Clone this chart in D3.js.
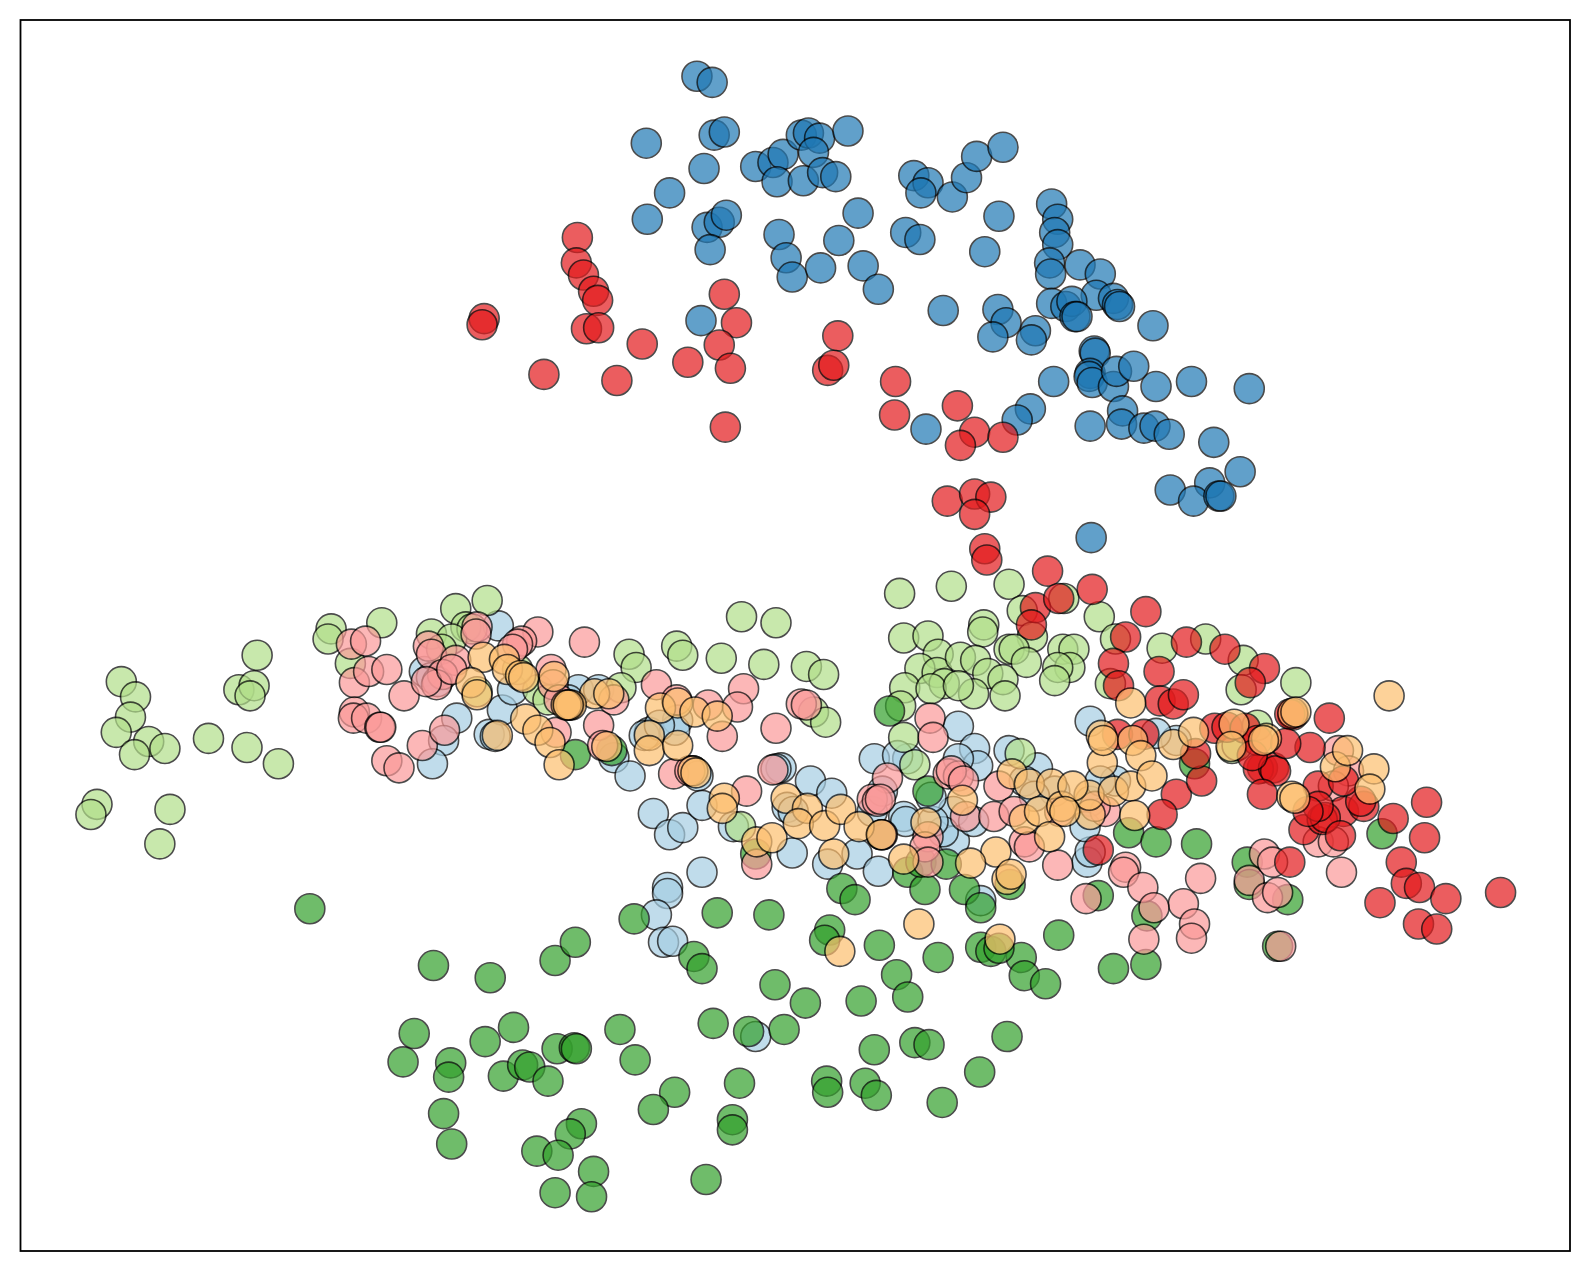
<!DOCTYPE html>
<html>
<head>
<meta charset="utf-8">
<script src="https://d3js.org/d3.v7.min.js"></script>
<style>
  html, body { margin: 0; padding: 0; background: #fff; }
  svg { display: block; }
</style>
</head>
<body>
<div id="chart"></div>
<script>
// values, [x, y], y grows downwards
const blue = [[687,75],[702,81],[637,141],[704,133],[714,130],[694,166],[660,190],[638,216],[697,224],[709,219],[716,212],[700,246],[745,164],[762,160],[772,152],[766,179],[790,133],[797,131],[808,136],[836,129],[802,150],[792,178],[811,170],[824,174],[846,210],[768,231],[775,254],[781,273],[809,264],[827,237],[851,262],[866,285],[901,173],[915,180],[908,190],[939,194],[953,175],[963,154],[989,145],[985,213],[893,229],[907,236],[971,248],[1037,201],[1043,216],[1040,229],[1043,241],[1035,259],[1036,270],[1065,261],[1085,270],[1081,291],[1037,299],[1051,302],[1057,297],[1060,312],[1062,312],[1098,294],[1102,300],[1104,302],[1137,321],[930,306],[984,305],[992,318],[979,332],[1021,326],[1017,335],[691,316],[1079,346],[1080,348],[1075,368],[1074,371],[1077,377],[1098,381],[1101,366],[1118,361],[1140,381],[1175,376],[1232,383],[1039,376],[1016,403],[1003,414],[913,423],[1075,420],[1107,405],[1106,418],[1128,422],[1139,420],[1153,428],[1197,436],[1223,465],[1193,476],[1154,483],[1177,494],[1202,489],[1204,489],[1076,530]];
const lightBlue = [[491,617],[418,662],[425,668],[431,672],[450,708],[437,730],[482,724],[495,700],[488,726],[426,753],[605,747],[621,765],[570,680],[590,680],[560,690],[505,680],[640,722],[635,725],[668,710],[665,720],[650,715],[683,760],[688,765],[644,802],[660,823],[673,816],[692,794],[723,815],[770,757],[765,758],[799,770],[776,796],[782,800],[820,782],[692,860],[658,875],[658,881],[647,902],[654,929],[663,928],[745,1022],[862,748],[781,841],[816,852],[845,842],[866,859],[891,805],[893,810],[945,716],[961,738],[964,755],[945,748],[895,748],[885,745],[995,740],[1075,711],[1023,757],[1010,770],[940,800],[941,829],[930,820],[960,810],[967,888],[1072,850],[1075,840],[1075,790],[1100,770],[1085,770],[860,800],[1160,730],[1140,723],[1070,815],[870,780],[920,810],[1040,780],[1020,785],[918,786]];
const lightGreen = [[119,672],[133,687],[128,707],[114,722],[146,731],[132,744],[162,738],[95,793],[89,803],[167,798],[157,832],[253,646],[235,680],[250,676],[246,686],[205,728],[243,737],[274,753],[326,620],[323,630],[376,614],[345,654],[425,625],[449,600],[480,592],[459,618],[465,620],[445,630],[435,640],[620,645],[627,658],[667,637],[673,646],[711,649],[731,608],[765,614],[753,655],[795,657],[812,665],[802,702],[814,712],[612,678],[530,680],[510,660],[540,690],[470,682],[887,585],[938,578],[995,576],[891,629],[915,627],[1008,602],[970,616],[969,623],[1049,590],[1018,628],[1084,608],[995,640],[1000,640],[1012,653],[1048,640],[1059,640],[1055,658],[1043,658],[1040,671],[925,645],[907,659],[924,663],[931,674],[947,648],[962,651],[974,664],[989,670],[960,684],[991,686],[892,678],[918,679],[945,676],[888,696],[891,727],[902,754],[1006,743],[730,815],[1146,639],[1189,630],[1226,651],[1224,680],[1278,673],[1095,674],[1100,630],[1240,715],[1215,738],[1220,735]];
const green = [[305,896],[427,952],[483,964],[547,947],[567,929],[625,906],[707,900],[758,902],[684,943],[692,955],[818,917],[813,927],[867,932],[925,944],[967,934],[977,938],[1007,944],[1044,922],[1098,955],[1130,951],[1010,962],[1031,970],[764,971],[884,961],[849,987],[895,983],[794,989],[703,1009],[738,1017],[773,1015],[611,1015],[506,1013],[408,1019],[478,1027],[397,1047],[444,1048],[442,1062],[496,1061],[515,1050],[522,1052],[540,1066],[549,1034],[566,1033],[568,1034],[626,1045],[862,1035],[902,1028],[916,1030],[993,1022],[966,1057],[729,1068],[815,1066],[816,1077],[853,1068],[864,1080],[929,1087],[665,1077],[644,1094],[437,1098],[445,1128],[573,1108],[562,1118],[722,1104],[722,1114],[529,1135],[550,1139],[585,1155],[547,1176],[583,1180],[696,1163],[567,744],[603,740],[877,701],[915,780],[869,823],[830,876],[843,887],[895,860],[912,877],[908,850],[933,852],[951,877],[967,895],[996,872],[1083,883],[1113,821],[1140,830],[1180,832],[1178,753],[1230,850],[1232,872],[1270,887],[1260,933],[1131,903],[1363,822],[745,842],[985,935]];
const pink = [[346,635],[360,632],[349,673],[363,662],[381,660],[398,686],[349,702],[348,708],[361,708],[374,717],[375,717],[381,750],[393,757],[416,735],[438,720],[422,637],[425,645],[449,651],[436,665],[430,675],[420,672],[445,660],[470,618],[469,625],[530,623],[514,632],[510,635],[505,640],[576,633],[543,660],[545,675],[551,690],[590,715],[548,722],[594,735],[647,675],[698,695],[733,679],[727,697],[765,718],[712,726],[664,763],[680,760],[560,695],[605,690],[667,690],[762,759],[736,780],[790,694],[795,695],[746,852],[875,767],[860,788],[865,790],[868,788],[917,708],[920,727],[935,763],[945,765],[938,760],[950,770],[952,805],[980,805],[985,775],[915,825],[912,835],[915,850],[1010,830],[1043,853],[1015,835],[1045,800],[1090,800],[1110,855],[1108,860],[1127,875],[1184,866],[1167,891],[1178,911],[1175,925],[1128,926],[1071,886],[1138,895],[1247,842],[1232,868],[1255,850],[1250,885],[1260,880],[1323,860],[1300,830],[1315,830],[1263,933],[870,823],[1320,740],[1330,760],[1315,775],[1000,800],[1080,795]];
const red = [[569,234],[568,259],[575,271],[585,287],[589,296],[477,314],[475,320],[578,324],[590,323],[714,290],[726,318],[633,339],[709,340],[536,369],[608,375],[678,357],[720,363],[826,331],[816,365],[822,360],[883,376],[882,409],[715,421],[944,400],[961,426],[947,439],[989,431],[934,494],[961,487],[977,490],[961,507],[971,541],[973,552],[1033,563],[1077,581],[1021,599],[1044,590],[1017,616],[1130,603],[1110,628],[1098,654],[1103,676],[1170,633],[1208,640],[1143,662],[1144,691],[1157,694],[1167,685],[1247,659],[1233,673],[1102,724],[1128,724],[1198,718],[1210,717],[1228,718],[1275,705],[1272,704],[1311,708],[1292,737],[1245,757],[1241,758],[1256,757],[1258,760],[1300,775],[1245,783],[1160,783],[1185,770],[1146,803],[1083,838],[1179,743],[1325,800],[1345,795],[1342,790],[1407,791],[1374,807],[1405,826],[1286,818],[1304,808],[1307,806],[1322,824],[1272,850],[1382,850],[1387,871],[1400,875],[1426,886],[1361,890],[1480,880],[1399,911],[1417,916],[1325,770],[1240,730],[1235,745],[1268,733],[1300,795],[1290,800]];
const orange = [[476,648],[497,650],[500,660],[513,666],[516,668],[464,673],[470,685],[546,667],[586,684],[600,684],[561,695],[563,695],[558,695],[560,695],[651,698],[668,693],[685,702],[707,706],[518,709],[530,720],[542,732],[551,754],[490,725],[598,736],[640,725],[640,740],[668,735],[683,760],[686,762],[714,787],[712,797],[746,830],[761,826],[775,787],[796,797],[787,812],[813,814],[829,798],[847,815],[822,842],[869,823],[891,847],[913,811],[949,789],[998,763],[1015,773],[1037,773],[1010,808],[1025,800],[1047,795],[1075,803],[1035,825],[982,840],[957,851],[993,867],[997,862],[1074,784],[1098,780],[1115,775],[1119,804],[1087,752],[1086,725],[1088,730],[1117,730],[1125,745],[1136,765],[1115,693],[1157,734],[1177,722],[1217,714],[1214,736],[1249,728],[1246,730],[1275,703],[1278,702],[1274,785],[1277,787],[1317,756],[1329,740],[1355,758],[1351,778],[1370,686],[906,911],[986,926],[828,938],[1058,775],[1050,800]];

// draw order, bottom layer first
const seriesList = [blue, lightBlue, lightGreen, green, pink, red, orange];
const colors = ['#1f78b4', '#a6cee3', '#b2df8a', '#33a02c', '#fb9a99', '#e31a1c', '#fdbf6f'];

const width = 1589;
const height = 1272;

const x = d3.scaleLinear().domain([19.5, 1548.5]).range([20.5, 1570]);
const y = d3.scaleLinear().domain([19.5, 1233.5]).range([20, 1251]);

const svg = d3.select('#chart').append('svg')
  .attr('width', width)
  .attr('height', height);

seriesList.forEach((points, i) => {
  svg.append('g')
    .selectAll('circle')
    .data(points)
    .enter().append('circle')
    .attr('cx', d => x(d[0]))
    .attr('cy', d => y(d[1]))
    .attr('r', 15)
    .attr('fill', colors[i])
    .attr('stroke', '#000')
    .attr('stroke-width', 1.6)
    .attr('opacity', 0.7);
});

// plot frame
svg.append('rect')
  .attr('x', x.range()[0])
  .attr('y', y.range()[0])
  .attr('width', x.range()[1] - x.range()[0])
  .attr('height', y.range()[1] - y.range()[0])
  .attr('fill', 'none')
  .attr('stroke', '#000')
  .attr('stroke-width', 1.8);
</script>
</body>
</html>
